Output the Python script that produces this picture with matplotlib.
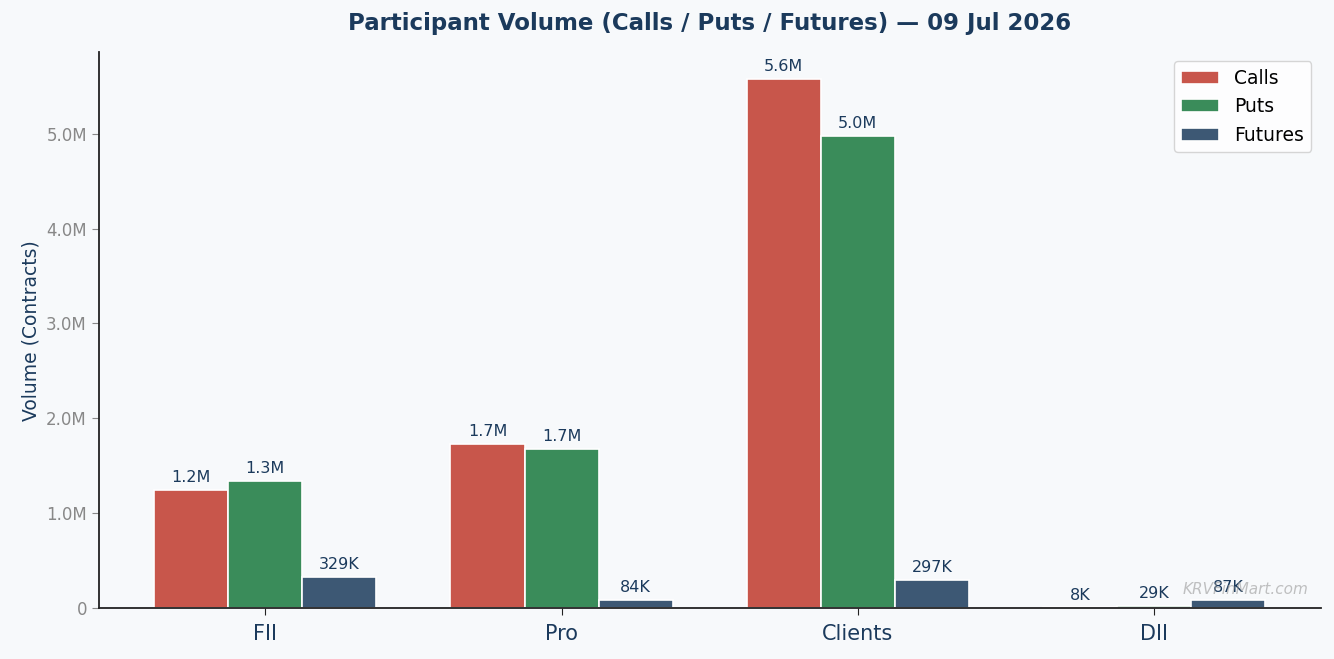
import numpy as np
import matplotlib
matplotlib.use("Agg")
import matplotlib.pyplot as plt
from matplotlib.ticker import FuncFormatter

plt.rcParams["font.family"] = ["DejaVu Sans"]

# =====================================================
# DATA
# =====================================================

participants = ["FII", "Pro", "Clients", "DII"]
calls = [1247000, 1730000, 5580000, 8000]
puts = [1340000, 1680000, 4980000, 29000]
futures = [329000, 84000, 297000, 87000]

series_names = ["Calls", "Puts", "Futures"]
series_colors = ["#c8564b", "#3a8c5a", "#3d5874"]

NAVY = "#1b3a5c"
BG = "#f7f9fb"

# =====================================================
# HELPERS
# =====================================================

def fmt_short(v):
    if v >= 1e6:
        return f"{v / 1e6:.1f}M"
    if v >= 1e3:
        return f"{v / 1e3:.0f}K"
    return f"{v:.0f}"


def fmt_axis(v, pos):
    if v == 0:
        return "0"
    return f"{v / 1e6:.1f}M"

# =====================================================
# PLOT
# =====================================================

fig, ax = plt.subplots(figsize=(13.34, 6.59), dpi=100)
fig.patch.set_facecolor(BG)
ax.set_facecolor(BG)

x = np.arange(len(participants))
width = 0.25

for i, (name, vals, col) in enumerate(zip(series_names, [calls, puts, futures], series_colors)):
    bars = ax.bar(x + (i - 1) * width, vals, width, label=name, color=col,
                  edgecolor="white", linewidth=1.2)
    for b, v in zip(bars, vals):
        ax.annotate(fmt_short(v), (b.get_x() + b.get_width() / 2, b.get_height()),
                    xytext=(0, 3.5), textcoords="offset points",
                    ha="center", va="bottom", fontsize=11.5, color=NAVY)

ax.set_ylim(0, max(calls + puts + futures) * 1.05)
ax.yaxis.set_major_formatter(FuncFormatter(fmt_axis))
ax.set_xticks(x)
ax.set_xticklabels(participants, fontsize=15)
ax.tick_params(axis="y", colors="#888888", labelsize=12, length=5)
ax.tick_params(axis="x", colors="#222222", length=5, pad=6)
for lbl in ax.get_xticklabels():
    lbl.set_color(NAVY)

ax.set_ylabel("Volume (Contracts)", fontsize=13.5, color=NAVY)
ax.set_title("Participant Volume (Calls / Puts / Futures) — 09 Jul 2026",
             fontsize=16.5, fontweight="bold", color=NAVY, pad=16)

ax.spines["top"].set_visible(False)
ax.spines["right"].set_visible(False)
ax.spines["left"].set_color("#222222")
ax.spines["bottom"].set_color("#222222")
ax.spines["left"].set_linewidth(1.3)
ax.spines["bottom"].set_linewidth(1.3)

ax.legend(loc="upper right", fontsize=13.5, frameon=True, facecolor="white",
          edgecolor="#cccccc")

ax.text(0.99, 0.02, "KRVFinMart.com", transform=ax.transAxes, ha="right",
        va="bottom", fontsize=11, color="#999999", alpha=0.6, style="italic")

plt.subplots_adjust(left=0.074, right=0.99, top=0.921, bottom=0.077)
plt.savefig("out.png", dpi=100, facecolor=BG)
plt.close()
